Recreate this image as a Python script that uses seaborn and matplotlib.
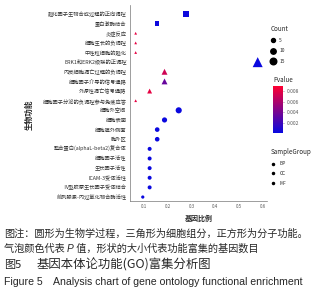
import matplotlib
matplotlib.use('Agg')
import numpy as np
import pandas as pd
import matplotlib.pyplot as plt
import seaborn as sns
from matplotlib.colors import LinearSegmentedColormap, Normalize
from matplotlib.lines import Line2D
import matplotlib.cm as cm

# GO 条目（自上而下）
terms = ['趋化因子生物合成过程的正向调控', '蛋白激酶结合', '炎症反应', '细胞生长的负调控',
         '中性粒细胞的趋化', 'ERK1和ERK2级联的正调控', '内皮细胞凋亡过程的负调控',
         '细胞因子介导的信号通路', '外源性凋亡信号通路', '细胞因子分泌的负调控参与免疫应答',
         '细胞外空间', '细胞表面', '细胞膜外侧面', '胞外区',
         '整合蛋白(alphaL-beta2)复合体', '细胞因子活性', '生长因子活性',
         'ICAM-3受体活性', 'Ⅳ型胶原生长因子受体结合', '前列腺素-内过氧化物合酶活性']
gene_ratio = [0.278, 0.155, 0.064, 0.064, 0.064, 0.580, 0.186, 0.186, 0.123, 0.064,
              0.246, 0.186, 0.155, 0.155, 0.123, 0.123, 0.123, 0.123, 0.123, 0.094]
count = [12, 6, 2, 2, 2, 36, 12, 12, 8, 2,
         13, 9, 7, 7, 5, 5, 5, 5, 5, 3]
pvalue = [0.0004, 0.0004, 0.0080, 0.0080, 0.0080, 0.0003, 0.0072, 0.0035, 0.0080, 0.0080,
          0.0003, 0.0003, 0.0003, 0.0003, 0.0003, 0.0003, 0.0003, 0.0003, 0.0003, 0.0003]
group = ['MF', 'MF', 'CC', 'CC', 'CC', 'CC', 'CC', 'CC', 'CC', 'CC',
         'BP', 'BP', 'BP', 'BP', 'BP', 'BP', 'BP', 'BP', 'BP', 'BP']

sns.set_style('white')
plt.rcParams['font.family'] = ['Noto Sans CJK SC', 'DejaVu Sans']

df = pd.DataFrame({'Term': terms, 'GeneRatio': gene_ratio, 'Count': count,
                   'Pvalue': pvalue, 'SampleGroup': group})

cmap = LinearSegmentedColormap.from_list('pv', ['#0808e0', '#ff0030'])
pnorm = (0.0002, 0.0089)
size_range = (4, 52)
size_norm = (2, 36)
markers = {'BP': 'o', 'CC': '^', 'MF': 's'}

fig = plt.figure(figsize=(3.25, 2.95), dpi=100)
ax = fig.add_axes([0.4, 0.319, 0.422, 0.664])
sns.scatterplot(data=df, x='GeneRatio', y='Term', hue='Pvalue', palette=cmap, hue_norm=pnorm,
                size='Count', sizes=size_range, size_norm=size_norm,
                style='SampleGroup', markers=markers, linewidth=0, legend=False, ax=ax)

ax.set_xlim(0.04, 0.62)
ax.set_ylim(len(terms) - 0.6, -0.93)
ax.set_xticks([0.1, 0.2, 0.3, 0.4, 0.5, 0.6])
ax.tick_params(axis='x', labelsize=3.2, colors='#555555', length=1.5, width=0.4, pad=1)
ax.tick_params(axis='y', labelsize=3.8, colors='#333333', length=1.5, width=0.4, pad=1)
for s in ['top', 'right']:
    ax.spines[s].set_visible(False)
for s in ['left', 'bottom']:
    ax.spines[s].set_color('#777777')
    ax.spines[s].set_linewidth(0.5)
ax.set_xlabel('基因比例', fontsize=5, fontweight='bold')
ax.set_ylabel('生物功能', fontsize=5.5, fontweight='bold')
ax.xaxis.set_label_coords(0.5, -0.07)
ax.yaxis.set_label_coords(-0.7, 0.44)


def msize(c):
    return np.sqrt(size_range[0] + (c - size_norm[0]) / (size_norm[1] - size_norm[0]) * (size_range[1] - size_range[0]))


# Count 图例
h_cnt = [Line2D([], [], ls='', marker='o', color='black', markersize=msize(c)) for c in [5, 10, 15]]
fig.legend(h_cnt, ['5', '10', '15'], title='Count', loc='upper left', bbox_to_anchor=(0.825, 0.925),
           frameon=False, fontsize=3.5, title_fontsize=4.5, handlelength=1, handletextpad=0.8,
           labelspacing=1.1, borderpad=0, alignment='left')

# Pvalue 颜色条
fig.text(0.84, 1 - 80 / 295, 'Pvalue', fontsize=4.5, va='center')
cax = fig.add_axes([0.84, 1 - 133 / 295, 0.031, 47 / 295])
sm = cm.ScalarMappable(norm=Normalize(*pnorm), cmap=cmap)
cb = fig.colorbar(sm, cax=cax, ticks=[0.002, 0.004, 0.006, 0.008])
cb.outline.set_visible(False)
cb.ax.tick_params(labelsize=3.5, length=1, width=0.4, colors='#555555', pad=1.5)

# SampleGroup 图例
h_grp = [Line2D([], [], ls='', marker='o', color='black', markersize=1.5) for _ in ['BP', 'CC', 'MF']]
fig.legend(h_grp, ['BP', 'CC', 'MF'], title='SampleGroup', loc='upper left', bbox_to_anchor=(0.825, 0.505),
           frameon=False, fontsize=3.5, title_fontsize=4.5, handlelength=1, handletextpad=0.9,
           labelspacing=1.0, borderpad=0, alignment='left')

# 图注
fs = 7.3
fig.text(0.012, 1 - 234 / 295, '图注：圆形为生物学过程，三角形为细胞组分，正方形为分子功能。',
         fontsize=fs, va='center')
t1 = fig.text(0.012, 1 - 249 / 295, '气泡颜色代表 ', fontsize=fs, va='center')
fig.canvas.draw()
r = fig.canvas.get_renderer()
x1 = t1.get_window_extent(r).x1 / fig.bbox.width
t2 = fig.text(x1, 1 - 249 / 295, 'P', fontsize=fs, va='center', style='italic',
              family=['Liberation Sans', 'DejaVu Sans'])
x2 = t2.get_window_extent(r).x1 / fig.bbox.width
fig.text(x2, 1 - 249 / 295, ' 值，形状的大小代表功能富集的基因数目', fontsize=fs, va='center')
fig.text(0.012, 1 - 265 / 295, '图5', fontsize=8, va='center')
fig.text(37 / 325, 1 - 265 / 295, '基因本体论功能(GO)富集分析图', fontsize=8.9, va='center')
fig.text(0.012, 1 - 282 / 295, 'Figure 5', fontsize=7.6, va='center',
         family=['Liberation Sans', 'DejaVu Sans'])
fig.text(53 / 325, 1 - 282 / 295, 'Analysis chart of gene ontology functional enrichment',
         fontsize=7.6, va='center', family=['Liberation Sans', 'DejaVu Sans'])

fig.savefig('out.png', dpi=100)
